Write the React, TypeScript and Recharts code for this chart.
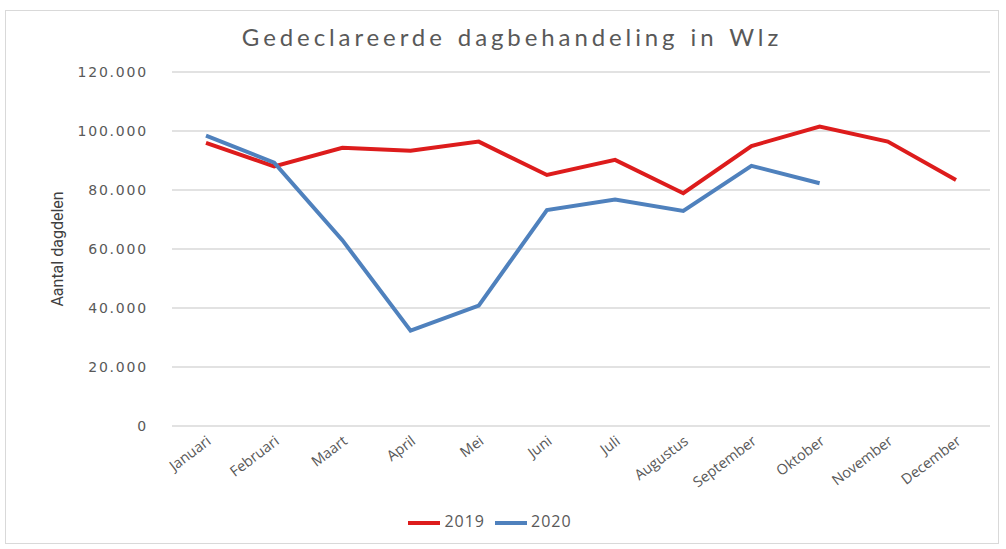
import React from 'react';
import { LineChart, Line, XAxis, YAxis, CartesianGrid, Legend } from 'recharts';

const months = ['Januari', 'Februari', 'Maart', 'April', 'Mei', 'Juni', 'Juli', 'Augustus', 'September', 'Oktober', 'November', 'December'];
const values2019 = [96000, 88000, 94300, 93300, 96400, 85100, 90200, 78900, 94900, 101500, 96400, 83400];
const values2020: (number | null)[] = [98400, 89300, 63000, 32300, 40800, 73200, 76800, 72900, 88200, 82300, null, null];
const yTicks = [0, 20000, 40000, 60000, 80000, 100000, 120000];

const data = months.map((m, i) => ({ month: m, y2019: values2019[i], y2020: values2020[i] }));

const fmt = (v: number) => (v === 0 ? '0' : String(v).replace(/\B(?=(\d{3})+(?!\d))/g, '.'));

const GREY = '#595959';
const RED = '#dd1c1c';
const BLUE = '#4f81bd';

const XTick = (props: any) => {
  const { x, y, payload } = props;
  return (
    <g transform={`translate(${x + 6},${y + 17})`}>
      <text x={0} y={0} textAnchor="end" transform="rotate(-37)" fill={GREY} fontSize={14.5} fontFamily="'Open Sans', sans-serif" letterSpacing={0}>
        {payload.value}
      </text>
    </g>
  );
};

const YLabel = (props: any) => {
  const vb = props.viewBox || { x: 0, y: 72, width: 172, height: 354 };
  const cx = vb.x + 57;
  const cy = vb.y + vb.height / 2;
  return (
    <text x={cx} y={cy} transform={`rotate(-90 ${cx} ${cy})`} textAnchor="middle" dominantBaseline="central" fill="#404040" fontSize={16} fontFamily="'Liberation Sans Narrow', 'Roboto', sans-serif">
      Aantal dagdelen
    </text>
  );
};

export default function App() {
  return (
    <div style={{ position: 'absolute', left: 0, top: 0, width: 1006, height: 549, background: '#fff' }}>
      <div style={{ position: 'absolute', left: 5, top: 10, width: 994, height: 534, border: '1px solid #d9d9d9', boxSizing: 'border-box' }} />
      <div style={{ position: 'absolute', left: 0, top: 22, width: 1024, textAlign: 'center', fontFamily: "Lato, 'Open Sans', sans-serif", fontSize: 24, color: GREY, letterSpacing: 3.9, wordSpacing: 2 }}>
        Gedeclareerde dagbehandeling in Wlz
      </div>
      <LineChart width={1006} height={549} data={data} margin={{ top: 72, right: 16, left: 0, bottom: 10 }} style={{ position: 'absolute', left: 0, top: 0 }}>
        <CartesianGrid vertical={false} stroke="#d9d9d9" strokeWidth={1.5} />
        <XAxis dataKey="month" axisLine={false} tickLine={false} tickSize={0} tickMargin={0} interval={0} height={81} padding={{ left: 34, right: 34 }} tick={<XTick />} />
        <YAxis
          width={172}
          domain={[0, 120000]}
          ticks={yTicks}
          tickFormatter={fmt}
          axisLine={false}
          tickLine={false}
          tickSize={0}
          tickMargin={24}
          tick={{ fill: GREY, fontSize: 14, fontFamily: "'DejaVu Sans', sans-serif", letterSpacing: 1.8 }}
          label={<YLabel />}
        />
        <Legend
          verticalAlign="bottom"
          align="center"
          iconType="plainline"
          iconSize={32}
          formatter={(value: string) => <span style={{ color: GREY, fontSize: 16, fontFamily: "'Open Sans', sans-serif", letterSpacing: 1 }}>{value}</span>}
        />
        <Line type="linear" dataKey="y2019" name="2019" stroke={RED} strokeWidth={4} dot={false} isAnimationActive={false} />
        <Line type="linear" dataKey="y2020" name="2020" stroke={BLUE} strokeWidth={4} dot={false} isAnimationActive={false} />
      </LineChart>
    </div>
  );
}
